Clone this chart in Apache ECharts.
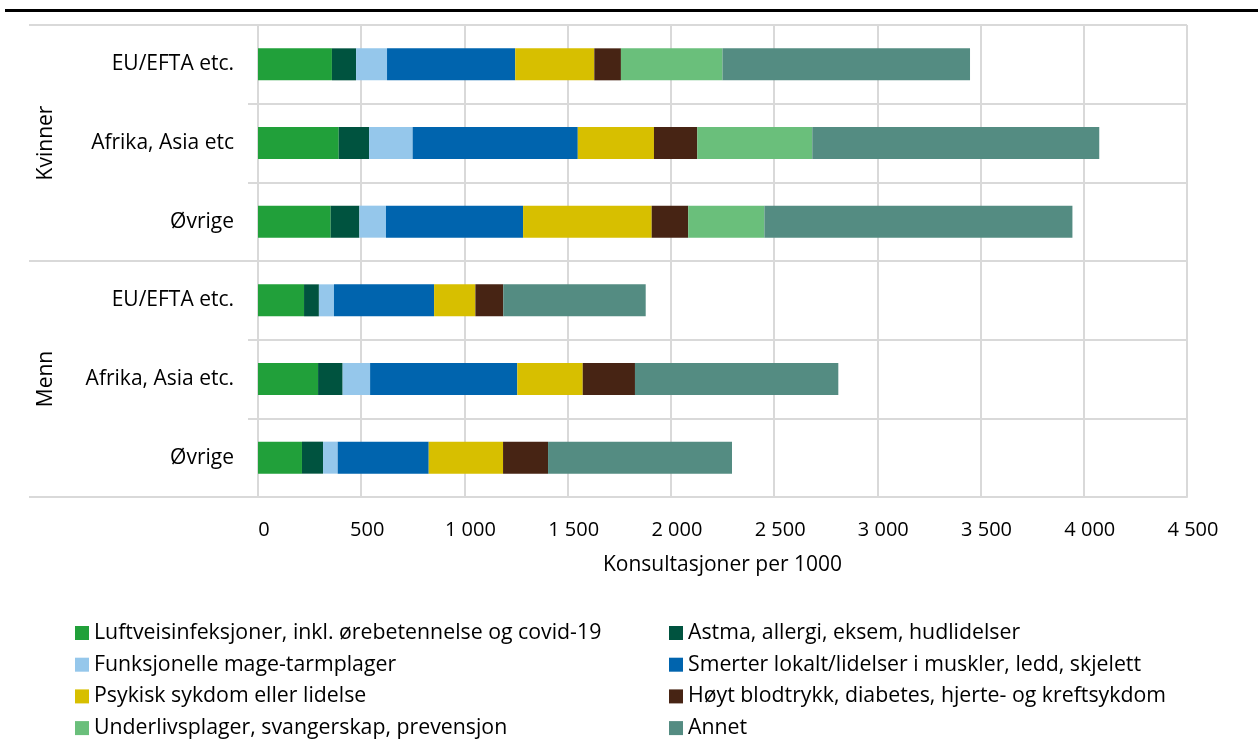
<!DOCTYPE html>
<html>
<head>
<meta charset="utf-8">
<script src="https://cdn.jsdelivr.net/npm/echarts@6/dist/echarts.min.js"></script>
<style>
html,body{margin:0;padding:0;background:#fff;}
#chart{width:1258px;height:740px;}
</style>
</head>
<body>
<div id="chart"></div>
<script>
// ---- data ----
const groups = ["Kvinner", "Menn"];
const subgroups = [
  ["EU/EFTA etc.", "Afrika, Asia etc", "Øvrige"],
  ["EU/EFTA etc.", "Afrika, Asia etc.", "Øvrige"]
];
const seriesNames = [
  "Luftveisinfeksjoner, inkl. ørebetennelse og covid-19",
  "Astma, allergi, eksem, hudlidelser",
  "Funksjonelle mage-tarmplager",
  "Smerter lokalt/lidelser i muskler, ledd, skjelett",
  "Psykisk sykdom eller lidelse",
  "Høyt blodtrykk, diabetes, hjerte- og kreftsykdom",
  "Underlivsplager, svangerskap, prevensjon",
  "Annet"
];
const luftveis   = [358, 391, 352, 223, 291, 213];
const astma      = [117, 147, 139,  72, 119, 102];
const funksjon   = [150, 211, 129,  73, 133,  71];
const smerter    = [621, 800, 664, 485, 713, 441];
const psykisk    = [383, 369, 623, 200, 317, 360];
const hoytBlod   = [129, 210, 177, 135, 253, 218];
const underliv   = [492, 557, 369,   0,   0,   0];
const annet      = [1199, 1390, 1492, 690, 985, 891];
const xTicks = [0, 500, 1000, 1500, 2000, 2500, 3000, 3500, 4000, 4500];
const xTitle = "Konsultasjoner per 1000";

const colors = ["#21a03a", "#00533f", "#95c7eb", "#0064ae", "#d7bf00", "#472414", "#6abf7b", "#548c82"];
const values = [luftveis, astma, funksjon, smerter, psykisk, hoytBlod, underliv, annet];

// category keys (unique) and display labels
const catKeys = [];
const catLabels = {};
groups.forEach((g, gi) => subgroups[gi].forEach(s => {
  const k = g + "|" + s;
  catKeys.push(k);
  catLabels[k] = s;
}));

const FONT = "'Open Sans', 'Noto Sans', sans-serif";
const chart = echarts.init(document.getElementById('chart'), null, {renderer: 'canvas'});

const gridLeft = 258, gridRight = 1187, gridTop = 25, gridBottom = 497;
const mid = (gridTop + gridBottom) / 2;

const series = seriesNames.map((n, i) => ({
  name: n,
  type: 'bar',
  stack: 'total',
  barWidth: 32,
  data: values[i],
  itemStyle: {color: colors[i]},
  emphasis: {disabled: true}
}));

const lineStyle = {stroke: '#d9d9d9', lineWidth: 2};
const legendCommon = {
  orient: 'vertical', top: 622, padding: 0,
  height: 118,
  icon: 'rect', itemWidth: 14, itemHeight: 14, itemGap: 9.7,
  selectedMode: false,
  textStyle: {fontSize: 21.3, lineHeight: 22, color: '#000', fontFamily: FONT}
};

chart.setOption({
  animation: false,
  textStyle: {fontFamily: FONT},
  grid: {left: gridLeft, right: 1258 - gridRight, top: gridTop, bottom: 740 - gridBottom, containLabel: false},
  xAxis: {
    type: 'value',
    min: xTicks[0],
    max: xTicks[xTicks.length - 1],
    interval: 500,
    axisLine: {show: true, lineStyle: {color: '#d9d9d9', width: 2}},
    axisTick: {show: false},
    splitLine: {show: true, lineStyle: {color: '#d9d9d9', width: 2}},
    axisLabel: {
      fontSize: 20, color: '#000', fontFamily: FONT, margin: 23,
      padding: [0, 0, 0, 12],
      formatter: v => String(v).replace(/\B(?=(\d{3})+(?!\d))/g, ' ')
    },
    name: xTitle,
    nameLocation: 'middle',
    nameGap: 58,
    nameTextStyle: {fontSize: 21, color: '#000', fontFamily: FONT}
  },
  yAxis: {
    type: 'category',
    inverse: true,
    data: catKeys,
    axisLine: {show: true, lineStyle: {color: '#d9d9d9', width: 2}},
    axisTick: {show: true, length: 10, lineStyle: {color: '#d9d9d9', width: 2}},
    splitLine: {show: true, lineStyle: {color: '#d9d9d9', width: 2}},
    axisLabel: {
      fontSize: 21, color: '#000', fontFamily: FONT, margin: 24,
      formatter: v => catLabels[v]
    }
  },
  legend: [
    Object.assign({}, legendCommon, {left: 75, data: seriesNames.filter((_, i) => i % 2 === 0)}),
    Object.assign({}, legendCommon, {left: 669, data: seriesNames.filter((_, i) => i % 2 === 1)})
  ],
  graphic: [
    {type: 'rect', shape: {x: 5, y: 9, width: 1253, height: 3}, style: {fill: '#000'}, silent: true},
    {type: 'line', shape: {x1: 29, y1: gridTop, x2: gridLeft, y2: gridTop}, style: lineStyle, silent: true},
    {type: 'line', shape: {x1: 29, y1: mid, x2: gridLeft, y2: mid}, style: lineStyle, silent: true},
    {type: 'line', shape: {x1: 29, y1: gridBottom, x2: gridLeft, y2: gridBottom}, style: lineStyle, silent: true},
    {type: 'text', x: 46, y: (gridTop + mid) / 2, rotation: Math.PI / 2,
      style: {text: groups[0], fontSize: 21, fill: '#000', fontFamily: FONT, align: 'center', verticalAlign: 'middle'}},
    {type: 'text', x: 46, y: (mid + gridBottom) / 2, rotation: Math.PI / 2,
      style: {text: groups[1], fontSize: 21, fill: '#000', fontFamily: FONT, align: 'center', verticalAlign: 'middle'}}
  ],
  series: series
});
</script>
</body>
</html>
